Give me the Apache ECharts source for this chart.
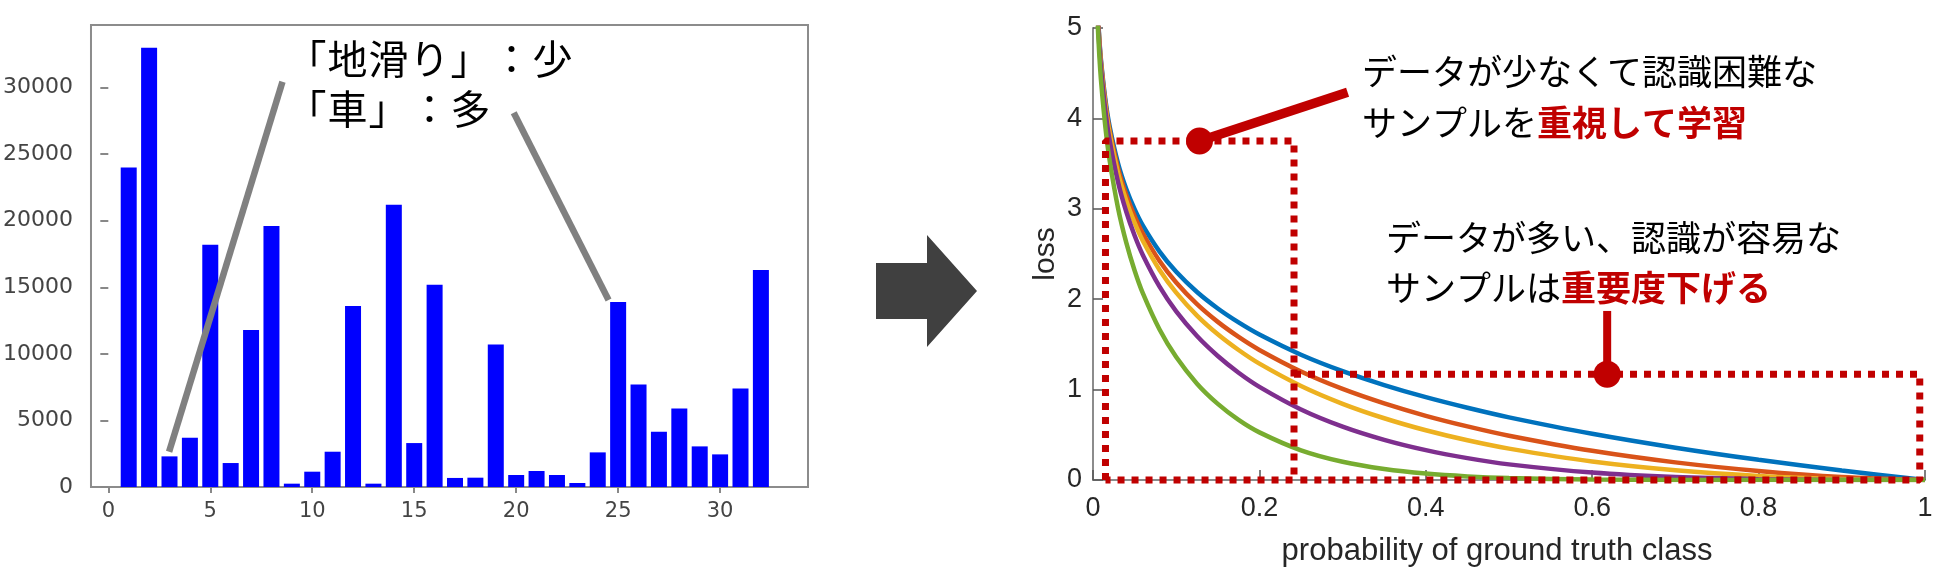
<!DOCTYPE html>
<html><head><meta charset="utf-8">
<script src="https://cdn.jsdelivr.net/npm/echarts@6/dist/echarts.min.js"></script>
<style>html,body{margin:0;padding:0;background:#fff;}#c{width:1947px;height:572px;}</style>
</head><body><div id="c"></div>
<script>
// ---- left chart data (class index -> sample count) ----
const barX = [1,2,3,4,5,6,7,8,9,10,11,12,13,14,15,16,17,18,19,20,21,22,23,24,25,26,27,28,29,30,31,32];
const barCounts = [24000,33000,2300,3700,18200,1800,11800,19600,250,1150,2650,13600,250,21200,3300,15200,680,700,10700,900,1200,900,300,2600,13900,7700,4150,5900,3050,2450,7400,16300];
const leftXTicks = [0,5,10,15,20,25,30];
const leftYTicks = [0,5000,10000,15000,20000,25000,30000];
const leftNotes = ['「地滑り」：少', '「車」：多'];

// ---- right chart data (loss vs probability of ground truth class) ----
const probX = [0.005,0.0075,0.01,0.015,0.02,0.03,0.04,0.05,0.06,0.08,0.1,0.125,0.15,0.175,0.2,0.25,0.3,0.35,0.4,0.45,0.5,0.6,0.7,0.8,0.9,1.0];
const lossBlue   = [5.298,4.893,4.605,4.200,3.912,3.507,3.219,2.996,2.813,2.526,2.303,2.079,1.897,1.743,1.609,1.386,1.204,1.050,0.916,0.799,0.693,0.511,0.357,0.223,0.105,0];
const lossOrange = [5.285,4.875,4.582,4.168,3.873,3.454,3.154,2.920,2.727,2.423,2.185,1.945,1.749,1.583,1.439,1.200,1.007,0.847,0.710,0.593,0.490,0.323,0.195,0.100,0.033,0];
const lossYellow = [5.272,4.856,4.559,4.137,3.834,3.402,3.090,2.846,2.644,2.324,2.073,1.819,1.612,1.438,1.287,1.040,0.843,0.683,0.550,0.439,0.347,0.204,0.107,0.045,0.011,0];
const lossPurple = [5.245,4.820,4.513,4.075,3.757,3.300,2.967,2.704,2.486,2.138,1.865,1.592,1.371,1.186,1.030,0.780,0.590,0.444,0.330,0.242,0.173,0.082,0.032,0.009,0.001,0];
const lossGreen  = [5.167,4.712,4.379,3.894,3.536,3.012,2.625,2.318,2.064,1.665,1.360,1.066,0.842,0.665,0.527,0.329,0.202,0.122,0.071,0.040,0.022,0.005,0.001,0,0,0];
const rightXTicks = [0,0.2,0.4,0.6,0.8,1];
const rightYTicks = [0,1,2,3,4,5];
const xName = 'probability of ground truth class';
const yName = 'loss';
// annotation boxes (data coords)
const boxHard = [[0.015,0],[0.015,3.75],[0.2416,3.75],[0.2416,0],[0.015,0]];
const boxEasy = [[0.2416,1.171],[0.9937,1.171],[0.9937,0],[0.2416,0]];
const calloutHard = [[0.128,3.75],[0.306,4.29]];
const calloutEasy = [[0.618,1.171],[0.618,1.87]];
const noteHard = ['データが少なくて認識困難な', 'サンプルを', '重視して学習'];
const noteEasy = ['データが多い、認識が容易な', 'サンプルは', '重要度下げる'];

const pair = (xs, ys) => xs.map((x, i) => [x, ys[i]]);
const curveColors = ['#0072BD','#D95319','#EDB120','#7E2F8E','#77AC30'];
const curves = [lossBlue, lossOrange, lossYellow, lossPurple, lossGreen];
const RED = '#C00000';
const JP = '"Noto Sans CJK JP", sans-serif';
const SANS = '"Liberation Sans", Arial, sans-serif';

const chart = echarts.init(document.getElementById('c'), null, {renderer: 'canvas'});

const series = [];
series.push({
  type: 'bar', xAxisIndex: 0, yAxisIndex: 0,
  data: pair(barX, barCounts), barWidth: 16,
  itemStyle: {color: '#0000FF'}, silent: true, animation: false
});
series.push({
  type: 'line', xAxisIndex: 0, yAxisIndex: 0, data: [[8.54,30440],[2.98,2651]],
  symbol: 'none', lineStyle: {color: '#808080', width: 6.5}, z: 5, animation: false, clip: false
});
series.push({
  type: 'line', xAxisIndex: 0, yAxisIndex: 0, data: [[19.88,28113],[24.53,14045]],
  symbol: 'none', lineStyle: {color: '#808080', width: 6.5}, z: 5, animation: false, clip: false
});
curves.forEach((c, i) => series.push({
  type: 'line', xAxisIndex: 1, yAxisIndex: 1, data: pair(probX, c),
  smooth: 0.3, showSymbol: false, symbol: 'none',
  lineStyle: {color: curveColors[i], width: 4.5}, animation: false, z: 2
}));
[boxHard, boxEasy].forEach(b => series.push({
  type: 'line', xAxisIndex: 1, yAxisIndex: 1, data: b, symbol: 'none', clip: false,
  lineStyle: {color: RED, width: 7, type: [7, 7], cap: 'butt'}, z: 8, animation: false
}));
series.push({
  type: 'line', xAxisIndex: 1, yAxisIndex: 1, data: calloutHard, symbol: 'none', clip: false,
  lineStyle: {color: RED, width: 9.5}, z: 9, animation: false
});
series.push({
  type: 'line', xAxisIndex: 1, yAxisIndex: 1, data: calloutEasy, symbol: 'none', clip: false,
  lineStyle: {color: RED, width: 8}, z: 9, animation: false
});
series.push({
  type: 'scatter', xAxisIndex: 1, yAxisIndex: 1, data: [calloutHard[0], calloutEasy[0]],
  symbolSize: 27, itemStyle: {color: RED, opacity: 1}, z: 10, animation: false, clip: false
});

const leftLblX = {fontFamily: '"DejaVu Sans", sans-serif', fontSize: 21, color: '#444'};
const leftLblY = {fontFamily: '"DejaVu Sans", sans-serif', fontSize: 22, color: '#444'};
const rightLbl = {fontFamily: SANS, fontSize: 27, color: '#262626'};

// fixed-pitch rich text so full-width punctuation keeps its full cell
function pitched(str) {
  return Array.from(str).map(ch => '{c|' + ch + '}').join('');
}

chart.setOption({
  animation: false,
  backgroundColor: '#fff',
  grid: [
    {left: 90, top: 25, width: 718, height: 462, show: true, borderColor: '#8c8c8c', borderWidth: 2, backgroundColor: 'transparent'},
    {left: 1093, top: 28, width: 832, height: 455}
  ],
  xAxis: [
    {type: 'value', gridIndex: 0, min: -0.85, max: 34.31,
     axisLine: {show: false}, splitLine: {show: false},
     axisTick: {show: true, customValues: leftXTicks, length: 6, lineStyle: {color: '#888', width: 2}},
     axisLabel: Object.assign({customValues: leftXTicks, margin: 14, formatter: v => String(v)}, leftLblX)},
    {type: 'value', gridIndex: 1, min: 0, max: 1, interval: 0.2,
     axisLine: {show: true, onZero: false, lineStyle: {color: '#8c8c8c', width: 2}},
     splitLine: {show: false},
     axisTick: {show: true, inside: true, length: 10, lineStyle: {color: '#555', width: 1.5}},
     axisLabel: Object.assign({margin: 15, formatter: v => String(+v.toFixed(1))}, rightLbl),
     name: xName, nameLocation: 'middle', nameGap: 56,
     nameTextStyle: {fontFamily: SANS, fontSize: 31, color: '#262626', padding: [0, 24, 0, 0]}}
  ],
  yAxis: [
    {type: 'value', gridIndex: 0, min: 0, max: 34700,
     axisLine: {show: false}, splitLine: {show: false},
     axisTick: {show: true, customValues: leftYTicks, length: 8, lineStyle: {color: '#888', width: 2}},
     axisLabel: Object.assign({customValues: leftYTicks, margin: 18, formatter: v => String(v)}, leftLblY)},
    {type: 'value', gridIndex: 1, min: 0, max: 5, interval: 1,
     axisLine: {show: true, onZero: false, lineStyle: {color: '#8c8c8c', width: 2}},
     splitLine: {show: false},
     axisTick: {show: true, inside: true, length: 10, lineStyle: {color: '#555', width: 1.5}},
     axisLabel: Object.assign({margin: 11, formatter: v => String(v)}, rightLbl),
     name: yName, nameLocation: 'middle', nameGap: 32,
     nameTextStyle: {fontFamily: SANS, fontSize: 30, color: '#262626'}}
  ],
  series: series,
  graphic: [
    {type: 'polygon', shape: {points: [[876,263],[927,263],[927,235],[977,291],[927,347],[927,319],[876,319]]},
     style: {fill: '#404040'}, z: 20},
    {type: 'text', x: 286, y: 59, z: 20,
     style: {text: pitched(leftNotes[0]), verticalAlign: 'middle', textVerticalAlign: 'middle',
       rich: {c: {fontFamily: JP, fontSize: 40, fill: '#000', width: 41, align: 'center'}}}},
    {type: 'text', x: 286, y: 109, z: 20,
     style: {text: pitched(leftNotes[1]), verticalAlign: 'middle', textVerticalAlign: 'middle',
       rich: {c: {fontFamily: JP, fontSize: 40, fill: '#000', width: 41, align: 'center'}}}},
    {type: 'text', x: 1362, y: 72, z: 20,
     style: {text: noteHard[0], fontFamily: JP, fontSize: 35, fill: '#000', verticalAlign: 'middle', textVerticalAlign: 'middle'}},
    {type: 'text', x: 1362, y: 123, z: 20,
     style: {text: '{n|' + noteHard[1] + '}{b|' + noteHard[2] + '}', verticalAlign: 'middle', textVerticalAlign: 'middle',
       rich: {n: {fontFamily: JP, fontSize: 35, fill: '#000'}, b: {fontFamily: JP, fontSize: 35, fontWeight: 'bold', fill: RED}}}},
    {type: 'text', x: 1386, y: 238, z: 20,
     style: {text: noteEasy[0], fontFamily: JP, fontSize: 35, fill: '#000', verticalAlign: 'middle', textVerticalAlign: 'middle'}},
    {type: 'text', x: 1386, y: 288, z: 20,
     style: {text: '{n|' + noteEasy[1] + '}{b|' + noteEasy[2] + '}', verticalAlign: 'middle', textVerticalAlign: 'middle',
       rich: {n: {fontFamily: JP, fontSize: 35, fill: '#000'}, b: {fontFamily: JP, fontSize: 35, fontWeight: 'bold', fill: RED}}}}
  ]
});
</script></body></html>
